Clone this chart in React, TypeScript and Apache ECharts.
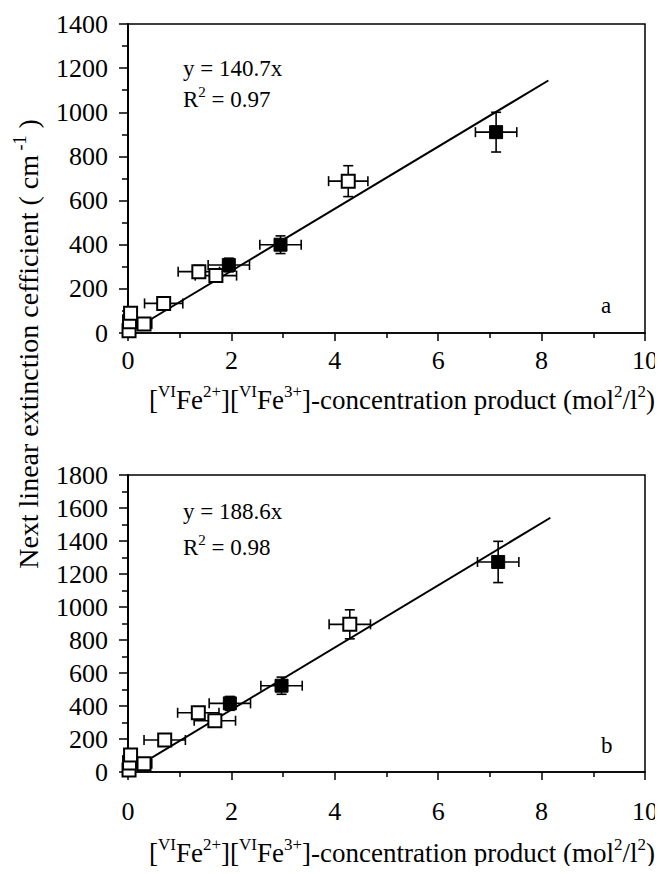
import React, { useEffect, useRef } from "react";
import * as echarts from "echarts";

// ---- Data ----
// Panel a
const aOpenX = [0.02, 0.03, 0.05, 0.31, 0.69, 1.37, 1.7, 4.26];
const aOpenY = [10, 51, 89, 41, 134, 278, 260, 688];
const aOpenXErr = [0.05, 0.05, 0.05, 0.15, 0.37, 0.4, 0.4, 0.38];
const aOpenYErr = [2, 5, 9, 4, 13, 28, 26, 70];
const aFillX = [1.95, 2.95, 7.12];
const aFillY = [308, 400, 910];
const aFillXErr = [0.4, 0.4, 0.4];
const aFillYErr = [31, 40, 90];
const aFitLine = [[0, 0], [8.13, 1144]];

// Panel b
const bOpenX = [0.02, 0.03, 0.05, 0.31, 0.71, 1.36, 1.68, 4.29];
const bOpenY = [12, 55, 103, 50, 194, 359, 311, 895];
const bOpenXErr = [0.05, 0.05, 0.05, 0.15, 0.4, 0.4, 0.4, 0.4];
const bOpenYErr = [2, 6, 10, 5, 19, 36, 31, 88];
const bFillX = [1.97, 2.97, 7.16];
const bFillY = [416, 523, 1273];
const bFillXErr = [0.4, 0.4, 0.4];
const bFillYErr = [42, 52, 125];
const bFitLine = [[0, 0], [8.17, 1541]];

const xTicks = { min: 0, max: 10, interval: 2 };
const aYTicks = { min: 0, max: 1400, interval: 200 };
const bYTicks = { min: 0, max: 1800, interval: 200 };

const aEquation = "y = 140.7x";
const aR2 = "0.97";
const bEquation = "y = 188.6x";
const bR2 = "0.98";

const FONT = "Liberation Serif";

const zip = (xs: number[], ys: number[]) => xs.map((x, i) => [x, ys[i]]);
const zip4 = (xs: number[], ys: number[], ex: number[], ey: number[]) =>
  xs.map((x, i) => [x, ys[i], ex[i], ey[i]]);

const renderErr = (params: any, api: any) => {
  const x = api.value(0);
  const y = api.value(1);
  const ex = api.value(2);
  const ey = api.value(3);
  const l = api.coord([x - ex, y]);
  const r = api.coord([x + ex, y]);
  const t = api.coord([x, y + ey]);
  const b = api.coord([x, y - ey]);
  const c = 5;
  const st = { stroke: "#000", lineWidth: 1.6 };
  const ln = (x1: number, y1: number, x2: number, y2: number) => ({
    type: "line",
    shape: { x1, y1, x2, y2 },
    style: st,
  });
  return {
    type: "group",
    children: [
      ln(l[0], l[1], r[0], r[1]),
      ln(l[0], l[1] - c, l[0], l[1] + c),
      ln(r[0], r[1] - c, r[0], r[1] + c),
      ln(t[0], t[1], b[0], b[1]),
      ln(t[0] - c, t[1], t[0] + c, t[1]),
      ln(b[0] - c, b[1], b[0] + c, b[1]),
    ],
  };
};

const rich = {
  b: { fontFamily: FONT, fontSize: 23, lineHeight: 30, color: "#000" },
  s: { fontFamily: FONT, fontSize: 15, lineHeight: 15, verticalAlign: "top", color: "#000" },
  B: { fontFamily: FONT, fontSize: 27, lineHeight: 34, color: "#000" },
  S: { fontFamily: FONT, fontSize: 17, lineHeight: 17, verticalAlign: "top", color: "#000" },
  Y: { fontFamily: FONT, fontSize: 28, lineHeight: 34, color: "#000" },
  YS: { fontFamily: FONT, fontSize: 18, lineHeight: 18, verticalAlign: "top", color: "#000" },
};

const xTitle =
  "{B|[}{S|VI}{B|Fe}{S|2+}{B|][}{S|VI}{B|Fe}{S|3+}{B|]-concentration product (mol}{S|2}{B|/l}{S|2}{B|)}";
const yTitle = "{Y|Next linear extinction cefficient ( cm}{YS| -1}{Y| )}";

export default function App() {
  const ref = useRef<HTMLDivElement>(null);
  useEffect(() => {
    if (!ref.current) return;
    const chart = echarts.init(ref.current, null, { renderer: "svg" });

    const labelStyle = (margin: number) => ({
      fontFamily: FONT,
      fontSize: 26,
      color: "#000",
      margin,
      formatter: (v: number) => String(v),
    });

    const xAxisBase = (gridIndex: number, margin: number) => ({
      type: "value",
      gridIndex,
      ...xTicks,
      axisLine: { show: true, lineStyle: { color: "#000", width: 1.5 } },
      axisTick: { show: true, inside: false, length: 8, lineStyle: { color: "#000", width: 1.5 } },
      minorTick: { show: true, splitNumber: 2, length: 5, lineStyle: { color: "#000", width: 1.5 } },
      splitLine: { show: false },
      axisLabel: labelStyle(margin),
    });
    const yAxisBase = (gridIndex: number, t: any) => ({
      type: "value",
      gridIndex,
      ...t,
      axisLine: { show: true, lineStyle: { color: "#000", width: 2 } },
      axisTick: { show: true, inside: false, length: 9, lineStyle: { color: "#000", width: 1.5 } },
      minorTick: { show: true, splitNumber: 2, length: 6, lineStyle: { color: "#000", width: 1.5 } },
      splitLine: { show: false },
      axisLabel: labelStyle(20),
    });

    const panelSeries = (
      idx: number,
      openX: number[], openY: number[], openXE: number[], openYE: number[],
      fillX: number[], fillY: number[], fillXE: number[], fillYE: number[],
      fit: number[][]
    ) => [
      {
        type: "custom",
        xAxisIndex: idx,
        yAxisIndex: idx,
        renderItem: renderErr,
        encode: { x: 0, y: 1 },
        data: [...zip4(openX, openY, openXE, openYE), ...zip4(fillX, fillY, fillXE, fillYE)],
        z: 1,
        silent: true,
      },
      {
        type: "line",
        xAxisIndex: idx,
        yAxisIndex: idx,
        data: fit,
        symbol: "none",
        lineStyle: { color: "#000", width: 2 },
        z: 2,
      },
      {
        type: "scatter",
        xAxisIndex: idx,
        yAxisIndex: idx,
        data: zip(openX, openY),
        symbol: "rect",
        symbolSize: 13,
        itemStyle: { color: "#fff", borderColor: "#000", borderWidth: 2, opacity: 1 },
        z: 3,
      },
      {
        type: "scatter",
        xAxisIndex: idx,
        yAxisIndex: idx,
        data: zip(fillX, fillY),
        symbol: "rect",
        symbolSize: 13,
        itemStyle: { color: "#000", borderColor: "#000", borderWidth: 1, opacity: 1 },
        z: 3,
      },
    ];

    const textEl = (x: number, y: number, text: string, extra: any = {}) => ({
      type: "text",
      x,
      y,
      style: {
        text,
        rich,
        fontFamily: FONT,
        fontSize: 23,
        fill: "#000",
        align: "left",
        verticalAlign: "middle",
        ...extra,
      },
      z: 10,
    });

    chart.setOption({
      animation: false,
      backgroundColor: "#fff",
      textStyle: { fontFamily: FONT, color: "#000" },
      grid: [
        { left: 128, top: 24, width: 517, height: 309, show: true, borderColor: "#000", borderWidth: 1.5, backgroundColor: "transparent" },
        { left: 128, top: 475, width: 517, height: 297, show: true, borderColor: "#000", borderWidth: 1.5, backgroundColor: "transparent" },
      ],
      xAxis: [xAxisBase(0, 14), xAxisBase(1, 26)],
      yAxis: [yAxisBase(0, aYTicks), yAxisBase(1, bYTicks)],
      series: [
        ...panelSeries(0, aOpenX, aOpenY, aOpenXErr, aOpenYErr, aFillX, aFillY, aFillXErr, aFillYErr, aFitLine),
        ...panelSeries(1, bOpenX, bOpenY, bOpenXErr, bOpenYErr, bFillX, bFillY, bFillXErr, bFillYErr, bFitLine),
      ],
      graphic: [
        textEl(183, 68, `{b|${aEquation}}`),
        textEl(183, 99, `{b|R}{s|2}{b| = ${aR2}}`),
        textEl(183, 511, `{b|${bEquation}}`),
        textEl(183, 547, `{b|R}{s|2}{b| = ${bR2}}`),
        textEl(601, 305, "{b|a}"),
        textEl(601, 745, "{b|b}"),
        textEl(402, 400, xTitle, { align: "center" }),
        textEl(402, 853, xTitle, { align: "center" }),
        {
          type: "text",
          x: 28,
          y: 344,
          rotation: Math.PI / 2,
          style: {
            text: yTitle,
            rich,
            fontFamily: FONT,
            fontSize: 28,
            fill: "#000",
            align: "center",
            verticalAlign: "middle",
          },
          z: 10,
        },
      ],
    });
    return () => chart.dispose();
  }, []);
  return <div ref={ref} style={{ width: 663, height: 874, margin: -8 }} />;
}
